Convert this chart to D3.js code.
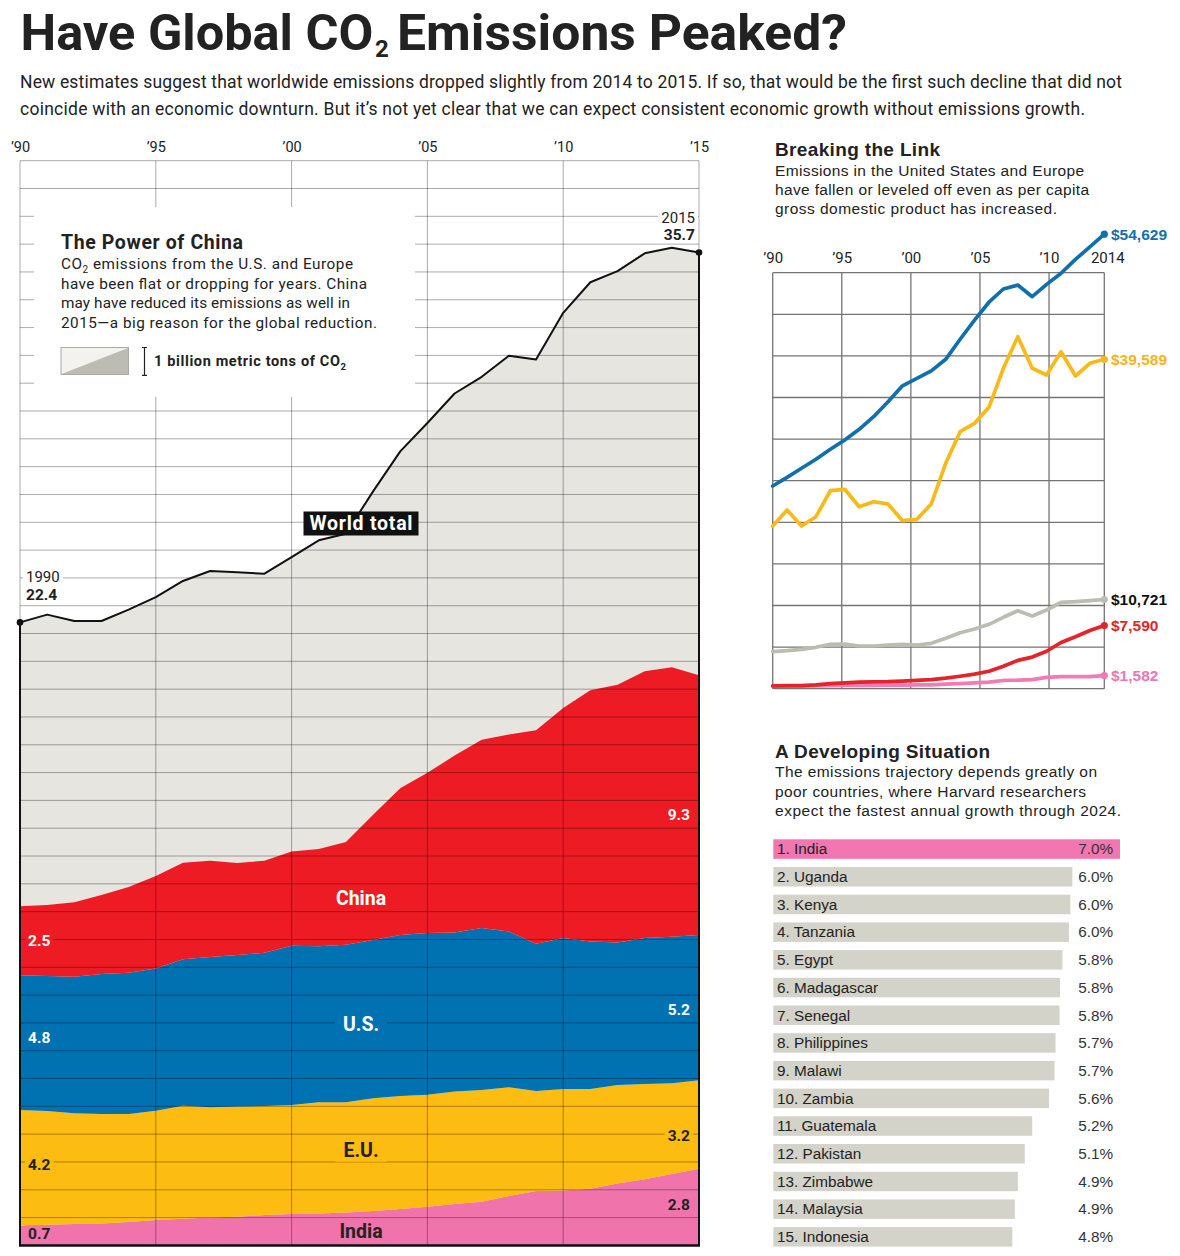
<!DOCTYPE html>
<html>
<head>
<meta charset="utf-8">
<script src="https://cdn.jsdelivr.net/npm/d3@7"></script>
<style>
body { margin: 0; background: #fff; }
text { font-family: Roboto, "Liberation Sans", sans-serif; fill: #222; }
.helv { font-family: "Liberation Sans", Arial, sans-serif; }
</style>
</head>
<body>
<script>
const width = 1180, height = 1256;

// ---- emissions, billion metric tons of CO2 ----
const years = [1990, 1991, 1992, 1993, 1994, 1995, 1996, 1997, 1998, 1999, 2000, 2001, 2002,
  2003, 2004, 2005, 2006, 2007, 2008, 2009, 2010, 2011, 2012, 2013, 2014, 2015];
const worldTotal = [22.40, 22.68, 22.45, 22.45, 22.86, 23.31, 23.89, 24.25, 24.20, 24.15, 24.75, 25.35, 25.59,
  27.11, 28.55, 29.57, 30.63, 31.23, 31.99, 31.85, 33.53, 34.63, 35.03, 35.67, 35.87, 35.70];
const india = [0.70, 0.74, 0.77, 0.79, 0.84, 0.91, 0.96, 1.00, 1.03, 1.09, 1.13, 1.15, 1.18,
  1.24, 1.31, 1.39, 1.49, 1.57, 1.78, 1.96, 1.97, 2.04, 2.23, 2.38, 2.57, 2.76];
const eu = [4.17, 4.09, 3.98, 3.93, 3.88, 3.93, 4.06, 3.97, 3.96, 3.92, 3.92, 4.00, 3.97,
  4.05, 4.06, 4.03, 4.04, 4.02, 3.91, 3.59, 3.65, 3.58, 3.54, 3.42, 3.26, 3.18];
const us = [4.84, 4.86, 4.91, 5.04, 5.08, 5.12, 5.27, 5.40, 5.45, 5.51, 5.72, 5.61, 5.66,
  5.69, 5.79, 5.81, 5.72, 5.82, 5.60, 5.30, 5.43, 5.31, 5.12, 5.25, 5.27, 5.22];
const china = [2.48, 2.55, 2.68, 2.84, 3.09, 3.32, 3.47, 3.46, 3.31, 3.31, 3.39, 3.49, 3.69,
  4.50, 5.28, 5.76, 6.36, 6.77, 7.08, 7.67, 8.27, 9.03, 9.27, 9.59, 9.69, 9.34];
const emTickYears = [1990, 1995, 2000, 2005, 2010, 2015];
const emTickLabels = ["’90", "’95", "’00", "’05", "’10", "’15"];

// ---- GDP per capita, US$ ----
const gdpYears = [1991, 1992, 1993, 1994, 1995, 1996, 1997, 1998, 1999, 2000, 2001, 2002,
  2003, 2004, 2005, 2006, 2007, 2008, 2009, 2010, 2011, 2012, 2013, 2014];
const gdpUS = [24363, 25408, 26490, 27572, 28773, 29891, 31178, 32692, 34495, 36400, 37300, 38200,
  39590, 42000, 44300, 46450, 48040, 48520, 47115, 48600, 49930, 51600, 53100, 54629];
const gdpEurope = [19555, 21478, 19555, 20673, 23798, 23966, 21875, 22476, 22199, 20192, 20360, 22199,
  27090, 30889, 31898, 33821, 38510, 42307, 38510, 37703, 40504, 37583, 39110, 39589];
const gdpWorld = [4447, 4567, 4735, 4976, 5336, 5372, 5132, 5132, 5252, 5336, 5252, 5456,
  6057, 6731, 7175, 7740, 8582, 9375, 8738, 9459, 10384, 10456, 10577, 10721];
const gdpChina = [330, 360, 380, 470, 610, 710, 780, 830, 850, 920, 1000, 1100,
  1280, 1500, 1750, 2100, 2700, 3400, 3800, 4500, 5550, 6250, 7000, 7590];
const gdpIndia = [300, 320, 300, 340, 370, 400, 410, 410, 440, 440, 450, 470,
  540, 620, 700, 780, 990, 1020, 1100, 1360, 1440, 1440, 1450, 1582];
const gdpTickYears = [1990, 1995, 2000, 2005, 2010, 2014];
const gdpTickLabels = ["’90", "’95", "’00", "’05", "’10", "2014"];

// ---- projected annual growth through 2024, % ----
const barCountries = ["India", "Uganda", "Kenya", "Tanzania", "Egypt", "Madagascar", "Senegal",
  "Philippines", "Malawi", "Zambia", "Guatemala", "Pakistan", "Zimbabwe", "Malaysia", "Indonesia"];
const barValues = [6.99, 6.03, 5.99, 5.96, 5.83, 5.78, 5.77, 5.69, 5.67, 5.56, 5.22, 5.07, 4.93, 4.87, 4.82];

const svg = d3.select("body").append("svg")
    .attr("width", width)
    .attr("height", height)
    .attr("viewBox", [0, 0, width, height]);

// helper: text line
function txt(g, s, x, y, size, opts = {}) {
  const t = g.append("text")
      .attr("x", x).attr("y", y)
      .attr("font-size", size)
      .attr("font-weight", opts.bold ? 700 : 400)
      .text(s);
  if (opts.cls) t.attr("class", opts.cls);
  if (opts.anchor) t.attr("text-anchor", opts.anchor);
  if (opts.fill) t.style("fill", opts.fill);
  if (opts.len) t.attr("textLength", opts.len).attr("lengthAdjust", opts.adjust || "spacing");
  return t;
}
// helper: label with a solid box behind it (hides grid lines)
function boxed(g, t, bg, padX, padY) {
  const b = t.node().getBBox();
  g.insert("rect", () => t.node())
      .attr("x", b.x - padX).attr("y", b.y - padY)
      .attr("width", b.width + 2 * padX).attr("height", b.height + 2 * padY)
      .attr("fill", bg);
}

// ---- headline (one text element, subscript as a tspan) ----
const title = svg.append("text")
    .attr("x", 20.5).attr("y", 50)
    .attr("font-size", 50.5).attr("font-weight", 700);
title.append("tspan")
    .text("Have Global CO");
title.append("tspan")
    .attr("x", 375).attr("dy", 7).attr("font-size", 24)
    .text("2");
title.append("tspan")
    .attr("x", 397).attr("dy", -7)
    .attr("textLength", 450).attr("lengthAdjust", "spacingAndGlyphs")
    .text("Emissions Peaked?");
txt(svg, "New estimates suggest that worldwide emissions dropped slightly from 2014 to 2015. If so, that would be the first such decline that did not",
  20, 87.5, 17.5, {len: 1102});
txt(svg, "coincide with an economic downturn. But it’s not yet clear that we can expect consistent economic growth without emissions growth.",
  20, 114.5, 17.5, {len: 1065});

// ================= main chart =================
const x = d3.scaleLinear().domain([1990, 2015]).range([20, 699]);
const y = d3.scaleLinear().domain([0, 39]).range([1245.4, 160.7]);

const table = years.map((yr, i) => ({year: yr, india: india[i], eu: eu[i], us: us[i], china: china[i], world: worldTotal[i]}));
const keys = ["india", "eu", "us", "china"];
const colors = {india: "#f173ab", eu: "#fdbc12", us: "#0071b1", china: "#ed1c24"};
const series = d3.stack().keys(keys)(table);

const main = svg.append("g");

main.append("path")
    .datum(table)
    .attr("fill", "#e6e5e0")
    .attr("d", d3.area().x(d => x(d.year)).y0(y(0)).y1(d => y(d.world)));

main.append("g").selectAll("path")
  .data(series).enter()
  .append("path")
    .attr("fill", d => colors[d.key])
    .attr("d", d3.area().x(d => x(d.data.year)).y0(d => y(d[0])).y1(d => y(d[1])));

// grid
const grid = main.append("g").attr("stroke", "#000").attr("stroke-opacity", 0.33).attr("stroke-width", 1);
grid.selectAll("line.h")
  .data(y.ticks(39)).enter()
  .append("line")
    .attr("x1", x(1990)).attr("x2", x(2015))
    .attr("y1", d => y(d)).attr("y2", d => y(d));
grid.selectAll("line.v")
  .data(emTickYears).enter()
  .append("line")
    .attr("x1", d => x(d)).attr("x2", d => x(d))
    .attr("y1", y(39)).attr("y2", y(0));

// top axis
const gxMain = main.append("g")
    .attr("transform", "translate(0,151.5)")
    .call(d3.axisTop(x).tickValues(emTickYears).tickFormat((d, i) => emTickLabels[i]).tickSize(0).tickPadding(0));
gxMain.select(".domain").remove();
gxMain.selectAll("text").attr("font-size", 14.5).attr("font-family", "Roboto, sans-serif").style("fill", "#222");

// world outline
const outline = main.append("g").attr("fill", "none").attr("stroke", "#111").attr("stroke-width", 2);
outline.append("path")
    .datum(table)
    .attr("stroke-linejoin", "round")
    .attr("d", d3.line().x(d => x(d.year)).y(d => y(d.world)));
outline.append("line").attr("x1", x(1990)).attr("x2", x(1990)).attr("y1", y(worldTotal[0])).attr("y2", y(0));
outline.append("line").attr("x1", x(2015)).attr("x2", x(2015)).attr("y1", y(worldTotal[25])).attr("y2", y(0));
outline.append("line").attr("x1", x(1990) - 1).attr("x2", x(2015) + 1).attr("y1", y(0)).attr("y2", y(0)).attr("stroke-width", 2.5);
main.selectAll("circle.end")
  .data([0, 25]).enter()
  .append("circle")
    .attr("cx", i => x(years[i])).attr("cy", i => y(worldTotal[i])).attr("r", 3.3).attr("fill", "#111");

// legend box
const leg = main.append("g");
leg.append("rect").attr("x", 34).attr("y", 207).attr("width", 381).attr("height", 190).attr("fill", "#fff");
txt(leg, "The Power of China", 61, 249, 19.5, {bold: true, len: 182});
const l1 = txt(leg, "CO", 61, 269, 15.3);
l1.append("tspan").attr("font-size", 10).attr("dy", 4).text("2");
l1.append("tspan").attr("dy", -4).text(" emissions from the U.S. and Europe");
l1.attr("textLength", 292).attr("lengthAdjust", "spacing");
txt(leg, "have been flat or dropping for years. China", 61, 288.5, 15.3, {len: 306});
txt(leg, "may have reduced its emissions as well in", 61, 308, 15.3, {len: 289});
txt(leg, "2015—a big reason for the global reduction.", 61, 327.5, 15.3, {len: 316});
leg.append("rect").attr("x", 61).attr("y", 347.5).attr("width", 67.5).attr("height", 27)
    .attr("fill", "#f3f2ee").attr("stroke", "#aaa").attr("stroke-width", 1);
leg.append("path").attr("d", "M61.5,374 L128,348 L128,374 Z").attr("fill", "#bdbcb2");
leg.append("path").attr("d", `M142,${y(38) + 159} h5 M144.5,${y(38) + 159} V${y(37) + 159} M142,${y(37) + 159} h5`)
    .attr("stroke", "#222").attr("stroke-width", 1.2).attr("fill", "none");
const l2 = txt(leg, "1 billion metric tons of CO", 154, 366, 14.5, {bold: true});
l2.append("tspan").attr("font-size", 9.5).attr("dy", 3.5).text("2");
l2.attr("textLength", 192).attr("lengthAdjust", "spacing");

// annotations
const ann = main.append("g");
boxed(ann, txt(ann, String(years[0]), 26, 582.3, 15), "#fff", 3, 0);
txt(ann, worldTotal[0].toFixed(1), 26, 599.5, 15.5, {bold: true});
boxed(ann, txt(ann, String(years[25]), 695, 222.5, 15, {anchor: "end"}), "#fff", 3, 0);
txt(ann, worldTotal[25].toFixed(1), 695, 240, 15.5, {bold: true, anchor: "end"});

const wt = txt(ann, "World total", 361, 530, 19.5, {bold: true, anchor: "middle", fill: "#fff", len: 103});
boxed(ann, wt, "#111", 6, 0.5);

const inner = [
  {k: "china", name: "China", ly: 905, left: 945.7, right: 820, light: true},
  {k: "us", name: "U.S.", ly: 1031, left: 1043.3, right: 1015, light: true},
  {k: "eu", name: "E.U.", ly: 1156.7, left: 1170, right: 1141, light: false},
  {k: "india", name: "India", ly: 1238.3, left: 1239.3, right: 1210, light: false}
];
const vals = {china: china, us: us, eu: eu, india: india};
inner.forEach(o => {
  const fill = o.light ? "#fff" : "#222";
  boxed(ann, txt(ann, o.name, 361, o.ly, 19.5, {bold: true, anchor: "middle", fill: fill}), colors[o.k], 8, 0);
  boxed(ann, txt(ann, vals[o.k][0].toFixed(1), 28, o.left, 15.5, {bold: true, fill: fill}), colors[o.k], 3, 0);
  boxed(ann, txt(ann, vals[o.k][25].toFixed(1), 690, o.right, 15.5, {bold: true, anchor: "end", fill: fill}), colors[o.k], 3, 0);
});

// ================= Breaking the Link =================
const side = svg.append("g");
txt(side, "Breaking the Link", 775, 156, 19, {bold: true, cls: "helv", len: 165});
txt(side, "Emissions in the United States and Europe", 775, 175.7, 15.5, {cls: "helv", len: 309});
txt(side, "have fallen or leveled off even as per capita", 775, 195, 15.5, {cls: "helv", len: 314});
txt(side, "gross domestic product has increased.", 775, 214.3, 15.5, {cls: "helv", len: 282});

const gx = d3.scaleLinear().domain([1990, 2014]).range([772.7, 1104.3]);
// the published lines stretch 1991-2014 across the whole frame
const gxData = d3.scaleLinear().domain([gdpYears[0], gdpYears[gdpYears.length - 1]]).range([772.7, 1104.3]);
const gy = d3.scaleLinear().domain([0, 50000]).range([688.7, 272.7]);

const g2 = side.append("g").attr("stroke", "#747474").attr("stroke-width", 1.3);
g2.selectAll("line.h")
  .data(gy.ticks(10)).enter()
  .append("line")
    .attr("x1", gx(1990)).attr("x2", gx(2014))
    .attr("y1", d => gy(d)).attr("y2", d => gy(d));
g2.selectAll("line.v")
  .data(gdpTickYears).enter()
  .append("line")
    .attr("x1", d => gx(d)).attr("x2", d => gx(d))
    .attr("y1", gy(50000)).attr("y2", gy(0));

const gAxis = side.append("g")
    .attr("transform", "translate(0,262.7)")
    .call(d3.axisTop(gx).tickValues(gdpTickYears).tickFormat((d, i) => gdpTickLabels[i]).tickSize(0).tickPadding(0));
gAxis.select(".domain").remove();
gAxis.selectAll("text").attr("font-size", 15).attr("font-family", "'Liberation Sans', Arial, sans-serif").style("fill", "#222");
gAxis.selectAll(".tick").filter((d, i) => i === gdpTickYears.length - 1).select("text").attr("dx", 3);

const gdpSeries = [
  {name: "world", values: gdpWorld, color: "#bcbcb0", label: "#111"},
  {name: "india", values: gdpIndia, color: "#f07cb3", label: "#ef76b0"},
  {name: "china", values: gdpChina, color: "#e5232b", label: "#e5232b"},
  {name: "europe", values: gdpEurope, color: "#f8b91a", label: "#f5b41b"},
  {name: "us", values: gdpUS, color: "#1170ab", label: "#1170ab"}
];
const gline = d3.line().x((d, i) => gxData(gdpYears[i])).y(d => gy(d));
side.append("g").selectAll("path")
  .data(gdpSeries).enter()
  .append("path")
    .attr("fill", "none")
    .attr("stroke", d => d.color)
    .attr("stroke-width", 3.7)
    .attr("stroke-linejoin", "round")
    .attr("stroke-linecap", "round")
    .attr("d", d => gline(d.values));
side.append("g").selectAll("circle")
  .data(gdpSeries).enter()
  .append("circle")
    .attr("cx", gxData(2014))
    .attr("cy", d => gy(d.values[d.values.length - 1]))
    .attr("r", 3.6)
    .attr("fill", d => d.color);
side.append("g").selectAll("text")
  .data(gdpSeries).enter()
  .append("text")
    .attr("class", "helv")
    .attr("x", 1111)
    .attr("y", d => gy(d.values[d.values.length - 1]) + 5.5)
    .attr("font-size", 15.5)
    .attr("font-weight", 700)
    .style("fill", d => d.label)
    .text(d => "$" + d3.format(",")(d.values[d.values.length - 1]));

// ================= A Developing Situation =================
const dev = svg.append("g");
txt(dev, "A Developing Situation", 775, 757.5, 19, {bold: true, cls: "helv", len: 215});
txt(dev, "The emissions trajectory depends greatly on", 775, 777, 15.5, {cls: "helv", len: 322});
txt(dev, "poor countries, where Harvard researchers", 775, 796.5, 15.5, {cls: "helv", len: 311});
txt(dev, "expect the fastest annual growth through 2024.", 775, 816, 15.5, {cls: "helv", len: 346});

const by = d3.scaleBand().domain(barCountries).range([835.2, 1250.7]).paddingInner(0.296).paddingOuter(0.148);
const bx = d3.scaleLinear().domain([0, 7]).range([773.3, 1120.5]);

const rows = dev.append("g").selectAll("g")
  .data(barCountries).enter()
  .append("g");
rows.append("rect")
    .attr("x", bx(0))
    .attr("y", d => by(d))
    .attr("width", (d, i) => bx(barValues[i]) - bx(0))
    .attr("height", by.bandwidth())
    .attr("fill", (d, i) => i === 0 ? "#f276b0" : "#d4d3c9");
rows.append("text")
    .attr("class", "helv")
    .attr("x", 777)
    .attr("y", d => by(d) + by.bandwidth() / 2 + 5.3)
    .attr("font-size", 15.3)
    .text((d, i) => `${i + 1}. ${d}`);
rows.append("text")
    .attr("class", "helv")
    .attr("x", 1113)
    .attr("y", d => by(d) + by.bandwidth() / 2 + 5.3)
    .attr("font-size", 15.3)
    .attr("text-anchor", "end")
    .style("fill", "#333")
    .text((d, i) => barValues[i].toFixed(1) + "%");
</script>
</body>
</html>
